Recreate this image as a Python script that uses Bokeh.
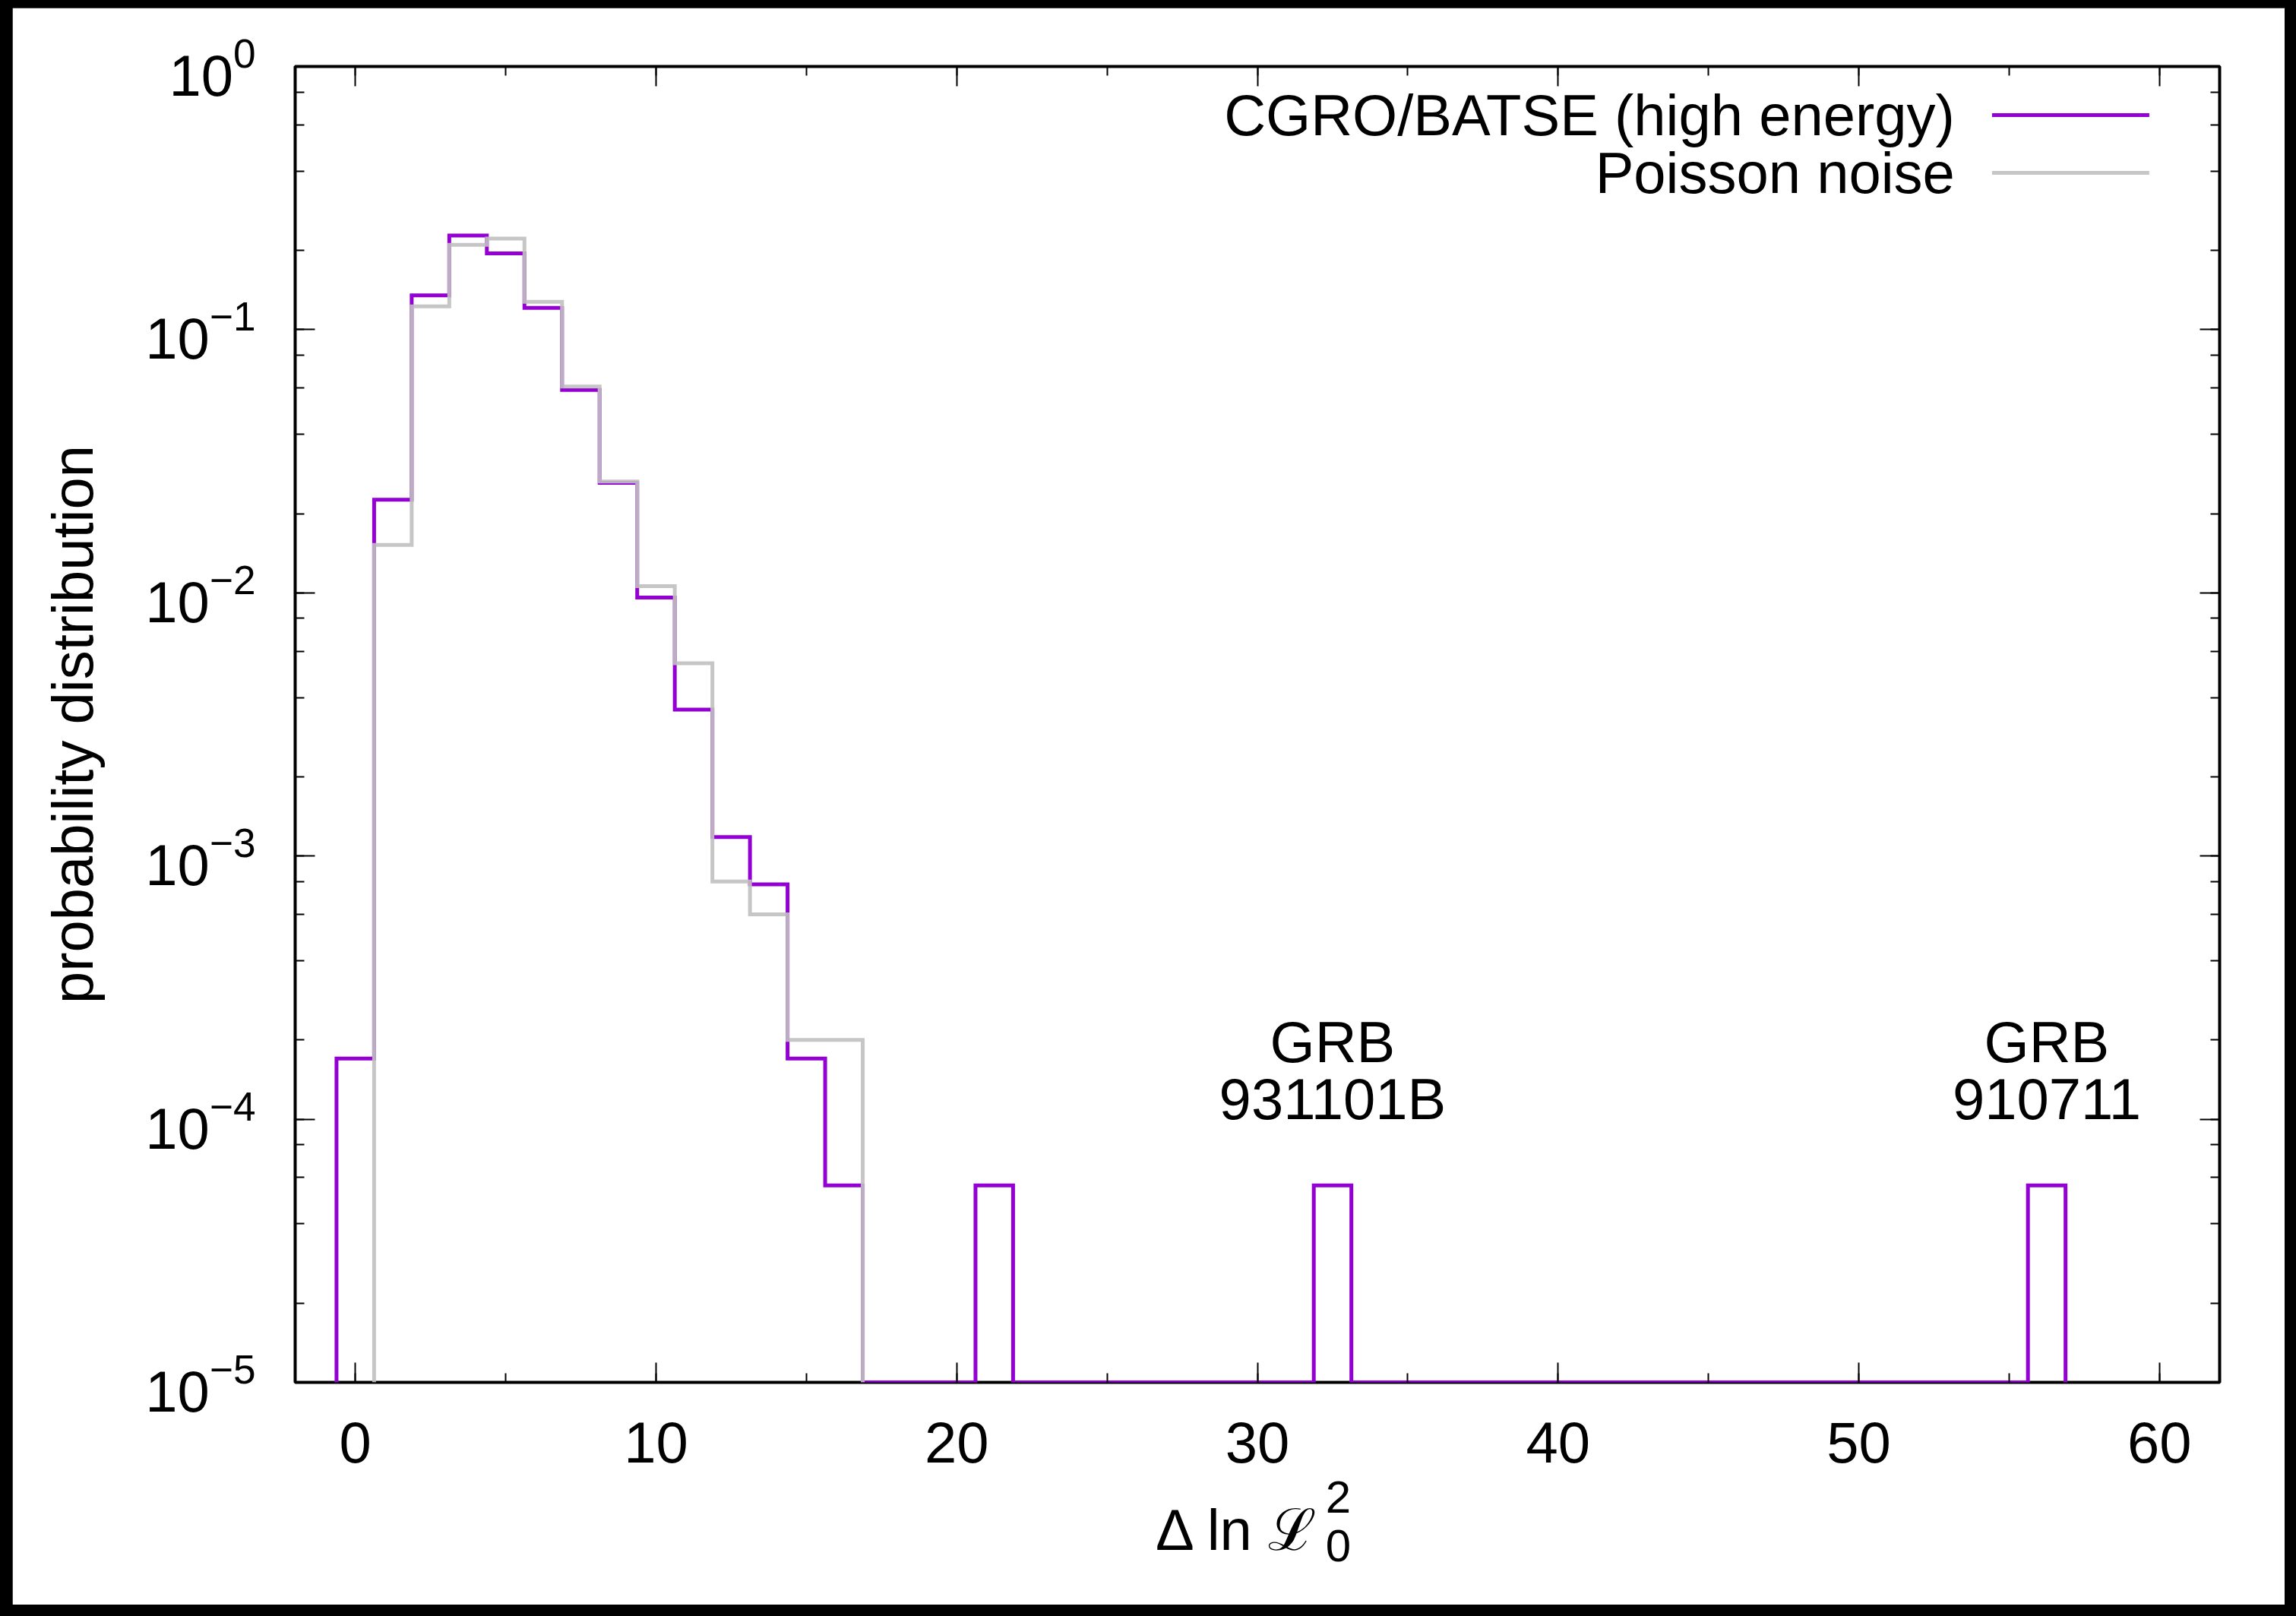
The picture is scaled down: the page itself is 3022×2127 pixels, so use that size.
import numpy as np
from bokeh.plotting import figure
from bokeh.models import (LinearAxis, LogAxis, Range1d, Label, SingleIntervalTicker,
                          LogTicker, CustomJSTickFormatter)
from bokeh.layouts import column
from bokeh.embed import file_html
from bokeh.resources import INLINE

# ---------------- data ----------------
bin_width = 1.25
batse_centers = [0.0, 1.25, 2.5, 3.75, 5.0, 6.25, 7.5, 8.75, 10.0, 11.25, 12.5,
                 13.75, 15.0, 16.25, 21.25, 32.5, 56.25]
batse_values = [1.7e-4, 0.0226, 0.135, 0.228, 0.195, 0.121, 0.059, 0.0262, 0.0096,
                0.0036, 0.00118, 0.00078, 1.7e-4, 5.6e-5, 5.6e-5, 5.6e-5, 5.6e-5]
poisson_centers = [1.25, 2.5, 3.75, 5.0, 6.25, 7.5, 8.75, 10.0, 11.25, 12.5,
                   13.75, 15.0, 16.25]
poisson_values = [0.0152, 0.1226, 0.210, 0.222, 0.1275, 0.0608, 0.0265, 0.0106,
                  0.0054, 0.0008, 0.0006, 2.0e-4, 2.0e-4]
series_names = ["CGRO/BATSE (high energy)", "Poisson noise"]
grb_names = ["931101B", "910711"]
grb_centers = [32.5, 56.25]
x_label_main = "\u0394 ln \u2112"
x_label_sub = "0"
x_label_sup = "2"
y_label = "probability distribution"

# ---------------- styling ----------------
FONT = "Liberation Sans"
FS = "76px"
FS_SMALL = "60px"
PURPLE = "#9400d3"
GREY = "#c0c0c0"
Y_FLOOR = 1e-5
W, H = 3022, 2127
BL, BT, BR, BB = 16, 10, 15, 15


def step_path(centers, values, floor, w):
    xs, ys = [], []
    half = w / 2.0
    prev_right = None
    for c, v in zip(centers, values):
        left, right = c - half, c + half
        if prev_right is None:
            xs.append(left); ys.append(floor)
        elif left - prev_right > 1e-9:
            xs += [prev_right, left]; ys += [floor, floor]
        xs += [left, right]; ys += [v, v]
        prev_right = right
    xs.append(prev_right); ys.append(floor)
    return xs, ys


p = figure(width=W - BL - BR, height=H - BT - BB,
           x_range=Range1d(-2, 62), y_range=Range1d(Y_FLOOR, 1.0),
           y_axis_type="log", output_backend="svg", toolbar_location=None,
           min_border_left=372, min_border_right=86, min_border_top=77,
           min_border_bottom=293)
p.margin = (BT, BR, BB, BL)
p.background_fill_color = "white"
p.border_fill_color = "white"
p.xgrid.visible = False
p.ygrid.visible = False
p.outline_line_color = "black"
p.outline_line_width = 4
p.outline_line_alpha = 1.0

blank = CustomJSTickFormatter(code="return ''")


def style_axis(ax, show_labels):
    ax.axis_line_color = None
    ax.major_tick_in = 26
    ax.major_tick_out = 0
    ax.minor_tick_in = 12
    ax.minor_tick_out = 0
    ax.major_tick_line_width = 2
    ax.minor_tick_line_width = 2
    ax.major_tick_line_color = "black"
    ax.minor_tick_line_color = "black"
    ax.major_label_text_font = FONT
    ax.major_label_text_color = "black"
    ax.major_label_text_font_size = FS
    if not show_labels:
        ax.formatter = blank
        ax.major_label_standoff = 0


xa = p.xaxis[0]
xa.ticker = SingleIntervalTicker(interval=10, num_minor_ticks=2)
style_axis(xa, True)
xa.major_label_standoff = 52
xa.axis_label = None

ya = p.yaxis[0]
ya.ticker = LogTicker()
style_axis(ya, True)
ya.major_label_standoff = 52
ya.axis_label = y_label
ya.axis_label_text_font = FONT
ya.axis_label_text_font_size = FS
ya.axis_label_text_font_style = "normal"
ya.axis_label_text_color = "black"
ya.axis_label_standoff = 50

top = LinearAxis(ticker=SingleIntervalTicker(interval=10, num_minor_ticks=2))
style_axis(top, False)
p.add_layout(top, "above")
right = LogAxis(ticker=LogTicker())
style_axis(right, False)
p.add_layout(right, "right")

# histograms
bx, by = step_path(batse_centers, batse_values, Y_FLOOR, bin_width)
p.line(bx, by, line_color=PURPLE, line_width=5, line_join="miter")
gx, gy = step_path(poisson_centers, poisson_values, Y_FLOOR, bin_width)
p.line(gx, gy, line_color=GREY, line_width=5, line_alpha=0.9, line_join="miter")

# key (gnuplot style: text right-aligned, sample line on the right)
key_text_x = 53.19
key_line_x = [54.43, 59.66]
key_rows_y = [0.6535, 0.3946]
for name, color, ry, alpha in zip(series_names, [PURPLE, GREY], key_rows_y, [1.0, 0.9]):
    p.line(key_line_x, [ry, ry], line_color=color, line_width=5, line_alpha=alpha)
    p.add_layout(Label(x=key_text_x, y=ry, text=name, text_align="right",
                       text_baseline="middle", text_font=FONT,
                       text_font_size=FS, text_color="black"))

# GRB annotations
for name, cx in zip(grb_names, grb_centers):
    p.add_layout(Label(x=cx, y=1.193e-4, text=name, text_align="center",
                       text_baseline="middle", text_font=FONT,
                       text_font_size=FS, text_color="black"))
    p.add_layout(Label(x=cx, y=1.963e-4, text="GRB", text_align="center",
                       text_baseline="middle", text_font=FONT,
                       text_font_size=FS, text_color="black"))

# x-axis label  Δ ln ℒ_0^2 (labels live in side panels so they are not clipped)
XL = 32.05
p.add_layout(Label(x=XL, y=2.75e-6, text=x_label_main, text_align="right",
                   text_baseline="middle", text_font=FONT,
                   text_font_size=FS, text_color="black"), "below")
p.add_layout(Label(x=XL + 0.22, y=2.39e-6, text=x_label_sub, text_align="left",
                   text_baseline="middle", text_font=FONT,
                   text_font_size=FS_SMALL, text_color="black"), "right")
p.add_layout(Label(x=XL + 0.22, y=3.66e-6, text=x_label_sup, text_align="left",
                   text_baseline="middle", text_font=FONT,
                   text_font_size=FS_SMALL, text_color="black"), "right")

layout = column(p, styles={"background-color": "black"})

with open("out.html", "w") as f:
    f.write(file_html(layout, INLINE))
